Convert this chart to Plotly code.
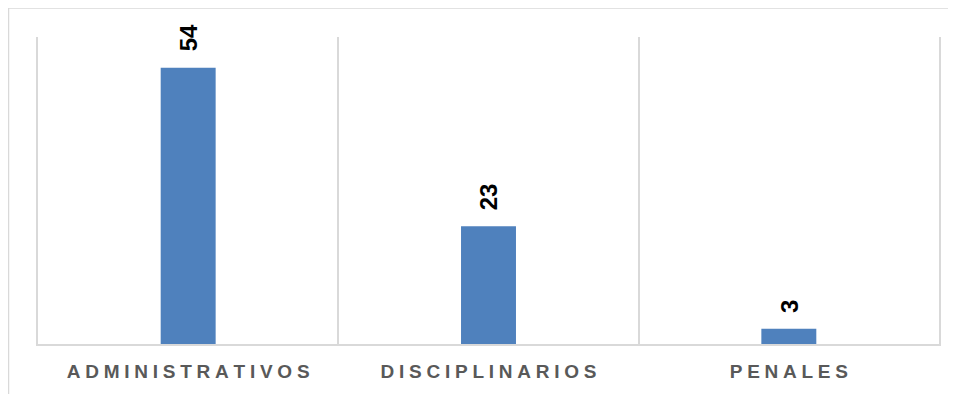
import plotly.graph_objects as go

# Chart data
categories = ["ADMINISTRATIVOS", "DISCIPLINARIOS", "PENALES"]
counts = [54, 23, 3]

_BAR_COLOR = "#4f81bd"
_GRID_COLOR = "#d9d9d9"
_FONT = "Liberation Sans, Arial, sans-serif"


def _spaced(label):
    # emulate the wide letter spacing of the original axis labels
    return "\u2005".join(label)


fig = go.Figure()
fig.add_trace(go.Bar(
    x=categories, y=counts,
    marker=dict(color=_BAR_COLOR, line=dict(width=0)),
    width=0.183,
    hoverinfo="x+y",
))

# rotated value labels above each bar
for cat, val in zip(categories, counts):
    fig.add_annotation(
        x=cat, y=val, text=str(val), textangle=-90,
        showarrow=False, xanchor="center", yanchor="bottom", yshift=14,
        font=dict(family=_FONT, size=24, color="#000000", weight="bold"),
    )

# outer chart-area border (top and left edges visible in the crop)
fig.add_shape(type="line", xref="paper", yref="paper",
              xsizemode="pixel", ysizemode="pixel", xanchor=0, yanchor=1,
              x0=-30, x1=950, y0=29, y1=29,
              line=dict(color=_GRID_COLOR, width=1.5))
fig.add_shape(type="line", xref="paper", yref="paper",
              xsizemode="pixel", ysizemode="pixel", xanchor=0, yanchor=1,
              x0=-29.5, x1=-29.5, y0=29, y1=-400,
              line=dict(color=_GRID_COLOR, width=1.5))

fig.update_layout(
    width=948, height=386,
    margin=dict(l=30, r=17, t=29, b=50),
    paper_bgcolor="white", plot_bgcolor="white",
    showlegend=False,
    font=dict(family=_FONT),
)
fig.update_xaxes(
    tickson="boundaries", showgrid=True, gridcolor=_GRID_COLOR, gridwidth=1.5,
    showline=True, linecolor=_GRID_COLOR, linewidth=2, mirror=False,
    ticks="", ticklabelstandoff=9, automargin=False,
    tickvals=categories, ticktext=[_spaced(c) for c in categories],
    tickfont=dict(family=_FONT, size=19, color="#595959", weight="bold"),
)
# y axis hidden except for its lines, which frame the left/right plot edges
fig.update_yaxes(
    range=[0, 60], showgrid=False, zeroline=False, showticklabels=False,
    ticks="", showline=True, mirror=True, linecolor=_GRID_COLOR, linewidth=1.5,
    automargin=False,
)

fig.write_html("out.html")
